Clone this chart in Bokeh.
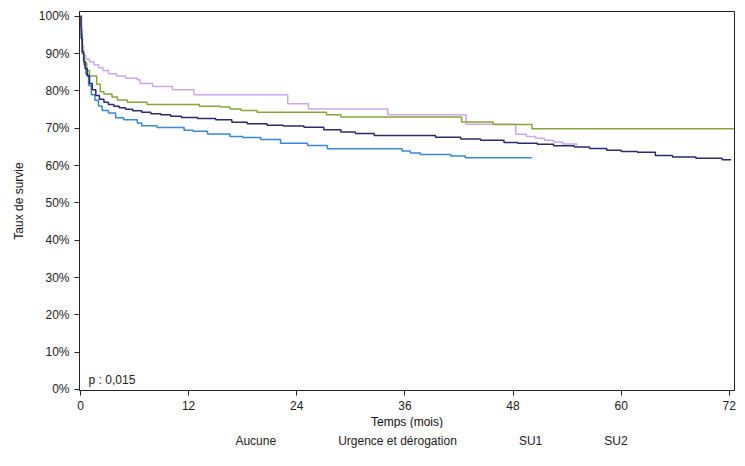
from bokeh.plotting import figure
from bokeh.layouts import column
from bokeh.models import Range1d, Legend, LegendItem, Label, PrintfTickFormatter, FixedTicker, Title
from bokeh.embed import file_html
from bokeh.resources import INLINE

# ---- data (months, survival %) ----
aucune_t = [0, 0.05, 0.1, 0.2, 0.35, 0.5, 0.75, 1.0, 1.3, 1.7, 2.1, 2.6, 3.1, 3.7, 4.3, 5.0,
            5.8, 6.8, 7.8, 8.9, 10.0, 11.2, 13.0, 15.0, 16.8, 18.5, 20.7, 22.5, 24.8, 27.0,
            28.9, 30.5, 32.6, 39.4, 42.2, 44.4, 47.0, 48.5, 50.7, 52.5, 54.8, 56.5, 58.4,
            60.0, 61.8, 63.8, 65.7, 68.3, 71.2, 72.2]
aucune_s = [100, 97, 94, 90.5, 88, 86, 84, 82, 80.3, 78.8, 77.8, 77.0, 76.4, 75.9, 75.5, 75.1,
            74.7, 74.3, 73.9, 73.6, 73.2, 72.9, 72.6, 72.3, 71.6, 71.2, 70.8, 70.6, 70.3, 69.6,
            69.0, 68.6, 68.1, 67.6, 67.1, 66.8, 66.2, 66.0, 65.7, 65.3, 65.0, 64.6, 64.1,
            63.8, 63.6, 62.7, 62.3, 62.0, 61.6, 61.6]

urgence_t = [0, 0.1, 0.2, 0.4, 0.7, 1.0, 1.8, 2.2, 2.6, 3.5, 4.1, 5.2, 7.4, 13.2, 15.5, 16.6,
             17.8, 19.6, 27.3, 28.9, 42.3, 45.8, 50.1, 72.6]
urgence_s = [100, 94, 90, 87.5, 85.5, 84.0, 81.8, 79.8, 79.2, 78.4, 77.6, 77.0, 76.4, 75.9, 75.7,
             75.2, 74.8, 74.3, 73.6, 73.0, 71.7, 71.0, 69.9, 69.9]

su1_t = [0, 0.1, 0.2, 0.4, 0.6, 0.9, 1.2, 1.6, 2.0, 2.4, 3.1, 3.9, 4.8, 6.3, 6.8, 8.5, 11.5,
         12.5, 14.1, 16.6, 18.0, 20.0, 22.2, 25.2, 27.4, 35.7, 36.6, 37.7, 41.1, 42.7, 50.1]
su1_s = [100, 95, 90, 87, 84.5, 81.5, 79, 77.5, 76, 74.8, 74.1, 72.8, 72.3, 71.4, 70.7, 70.2,
         69.5, 69.2, 68.5, 67.8, 67.5, 67.0, 66.0, 65.4, 64.5, 63.9, 63.4, 63.0, 62.6, 62.1, 62.1]

su2_t = [0, 0.1, 0.2, 0.35, 0.6, 1.0, 1.5, 2.0, 2.5, 3.1, 4.0, 5.0, 6.3, 6.6, 8.0, 10.2, 12.6,
         23.0, 25.3, 34.1, 42.8, 48.3, 49.5, 50.5, 51.5, 52.5, 53.5, 55.1]
su2_s = [100, 96, 92, 89.5, 88.5, 87.8, 87.0, 86.2, 85.5, 84.6, 84.0, 83.4, 83.0, 82.0, 81.2,
         80.3, 79.0, 76.6, 75.2, 73.6, 71.1, 68.4, 67.8, 67.3, 66.8, 66.3, 65.8, 65.4]

series_names = ["Aucune", "Urgence et dérogation", "SU1", "SU2"]
x_ticks = [0, 12, 24, 36, 48, 60, 72]
y_ticks = [0, 10, 20, 30, 40, 50, 60, 70, 80, 90, 100]
x_label = "Temps (mois)"
y_label = "Taux de survie"
p_text = "p : 0,015"

colors = ["#2A2A6C", "#8BA43A", "#3B87D9", "#CBA8EC"]
FONT = "Liberation Sans"

p = figure(frame_width=655, frame_height=379, output_backend="svg", toolbar_location=None,
           x_range=Range1d(-0.11, 72.58), y_range=Range1d(-0.27, 101.3),
           min_border_left=79, min_border_right=3, min_border_top=11, min_border_bottom=0)
p.grid.visible = False
p.outline_line_color = "#222222"
p.outline_line_width = 1
p.background_fill_color = "white"
p.border_fill_color = "white"

for ax in (p.xaxis[0], p.yaxis[0]):
    ax.major_label_text_font = FONT
    ax.major_label_text_font_size = "12px"
    ax.major_label_text_color = "#222222"
    ax.axis_label_text_font = FONT
    ax.axis_label_text_font_size = "12px"
    ax.axis_label_text_font_style = "normal"
    ax.axis_label_text_color = "#111111"
    ax.minor_tick_line_color = None
    ax.major_tick_in = 0
    ax.major_tick_out = 5
    ax.axis_line_color = "#222222"
    ax.major_tick_line_color = "#222222"

p.xaxis.ticker = FixedTicker(ticks=x_ticks)
p.yaxis.ticker = FixedTicker(ticks=y_ticks)
p.yaxis.formatter = PrintfTickFormatter(format="%d%%")
p.yaxis.axis_label = y_label
p.yaxis.axis_label_standoff = 10
p.xaxis.major_label_standoff = 5

p.add_layout(Title(text=x_label, align="center", text_font=FONT, text_font_size="12px",
                   text_font_style="normal", text_color="#111111", standoff=0, offset=-6),
             "below")

data = [(aucune_t, aucune_s), (urgence_t, urgence_s), (su1_t, su1_s), (su2_t, su2_s)]
for i in [3, 2, 1, 0]:
    t, s = data[i]
    p.step(t, s, mode="after", line_color=colors[i], line_width=1.5)

p.add_layout(Label(x=0.9, y=0.8, text=p_text, text_font=FONT, text_font_size="12px",
                   text_color="#222222", text_baseline="bottom"))

# legend strip below the chart
lf = figure(width=737, height=26, output_backend="svg", toolbar_location=None,
            x_axis_type=None, y_axis_type=None,
            min_border_left=79, min_border_right=3, min_border_top=0, min_border_bottom=0)
lf.grid.visible = False
lf.outline_line_color = None
lf.background_fill_color = "white"
lf.border_fill_color = "white"
items = []
for i in range(4):
    r = lf.line(x=[], y=[], line_color=colors[i], line_width=1.5)
    items.append(LegendItem(label=series_names[i], renderers=[r]))
legend = Legend(items=items, orientation="horizontal", location="center",
                border_line_alpha=0, background_fill_alpha=0, margin=0, padding=2,
                spacing=12, glyph_width=40, glyph_height=14, label_standoff=10,
                label_text_font=FONT, label_text_font_size="12px", label_text_color="#222222",
                label_height=14)
lf.add_layout(legend, "center")

layout = column(p, lf, spacing=0)
open("out.html", "w").write(file_html(layout, INLINE))
